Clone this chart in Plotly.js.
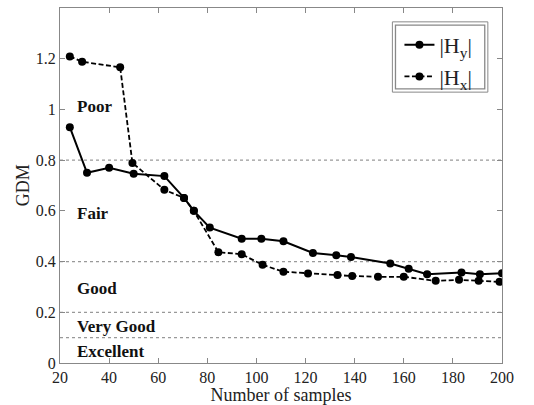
<!DOCTYPE html>
<html>
<head>
<meta charset="utf-8">
<script src="https://cdn.plot.ly/plotly-3.0.1.min.js"></script>
<style>html,body{margin:0;padding:0;background:#fff;}#chart{width:534px;height:405px;}</style>
</head>
<body>
<div id="chart"></div>
<script>
// Data
const hyX = [24, 31, 40, 50, 62.5, 70.5, 74.5, 81, 94, 102, 111, 123, 132.5, 138.5, 154.5, 162, 169.5, 183.5, 191, 200];
const hyY = [0.93, 0.75, 0.77, 0.746, 0.737, 0.651, 0.60, 0.534, 0.490, 0.490, 0.480, 0.434, 0.425, 0.418, 0.392, 0.372, 0.350, 0.357, 0.350, 0.354];
const hxX = [24, 29, 44.5, 49.5, 62.5, 70.5, 74.5, 84.5, 94, 102.5, 111, 121, 133, 139, 149.5, 160, 173, 182.5, 190.5, 199];
const hxY = [1.209, 1.188, 1.166, 0.789, 0.683, 0.651, 0.60, 0.437, 0.429, 0.387, 0.360, 0.353, 0.347, 0.343, 0.340, 0.340, 0.324, 0.328, 0.324, 0.320];
const thresholds = [0.1, 0.2, 0.4, 0.8];
const bandLabels = ["Poor", "Fair", "Good", "Very Good", "Excellent"];
const bandLabelY = [1.01, 0.59, 0.295, 0.145, 0.047];
const bandLabelX = 26;
const xTicks = [20, 40, 60, 80, 100, 120, 140, 160, 180, 200];
const yTicks = [0, 0.2, 0.4, 0.6, 0.8, 1, 1.2];
const yTickText = ["0", "0.2", "0.4", "0.6", "0.8", "1", "1.2"];

const serif = "'Liberation Serif', serif";

const traces = [
  {x: hyX, y: hyY, name: "|H<sub>y</sub>|", mode: "lines+markers", type: "scatter",
   line: {color: "#000", width: 2, dash: "solid"}, marker: {color: "#000", size: 8}},
  {x: hxX, y: hxY, name: "|H<sub>x</sub>|", mode: "lines+markers", type: "scatter",
   line: {color: "#000", width: 1.8, dash: "5px,2.5px"}, marker: {color: "#000", size: 8}}
];

const shapes = thresholds.map(t => ({
  type: "line", xref: "paper", yref: "y", x0: 0, x1: 1, y0: t, y1: t,
  line: {color: "#999", width: 1.2, dash: "dot"}, layer: "below"
}));
// double legend frame
shapes.push({type: "rect", xref: "paper", yref: "paper", x0: 0.752, x1: 0.968, y0: 0.763, y1: 0.961,
  line: {color: "#888", width: 1}, fillcolor: "#fff", layer: "below"});
shapes.push({type: "rect", xref: "paper", yref: "paper", x0: 0.759, x1: 0.961, y0: 0.772, y1: 0.952,
  line: {color: "#888", width: 1.3}, fillcolor: "rgba(0,0,0,0)", layer: "below"});

const annotations = bandLabels.map((t, i) => ({
  text: "<b>" + t + "</b>", x: bandLabelX, y: bandLabelY[i], xref: "x", yref: "y",
  xanchor: "left", yanchor: "middle", showarrow: false,
  font: {family: serif, size: 17, color: "#111"}
}));
annotations.push({text: "GDM", xref: "paper", yref: "paper", x: -0.084, y: 0.5,
  xanchor: "center", yanchor: "middle", textangle: -90, showarrow: false,
  font: {family: serif, size: 18, color: "#222"}});

const layout = {
  width: 534, height: 405,
  margin: {l: 60, r: 32, t: 8, b: 42},
  paper_bgcolor: "#fff", plot_bgcolor: "#fff",
  showlegend: true,
  legend: {x: 0.768, xanchor: "left", y: 0.955, yanchor: "top",
    bgcolor: "rgba(0,0,0,0)", borderwidth: 0,
    font: {family: serif, size: 22, color: "#222"}, itemwidth: 30, tracegroupgap: 0},
  xaxis: {range: [20, 200], tickvals: xTicks, ticks: "inside", ticklen: 5, tickcolor: "#888",
    showline: true, linecolor: "#888", linewidth: 1, mirror: "ticks", showgrid: false, zeroline: false,
    tickfont: {family: serif, size: 16, color: "#222"},
    title: {text: "Number of samples", font: {family: serif, size: 18, color: "#222"}, standoff: 2}},
  yaxis: {range: [0, 1.4], tickvals: yTicks, ticktext: yTickText, ticks: "inside", ticklen: 5, tickcolor: "#888",
    showline: true, linecolor: "#888", linewidth: 1, mirror: "ticks", showgrid: false, zeroline: false,
    tickfont: {family: serif, size: 16, color: "#222"}},
  shapes: shapes,
  annotations: annotations
};

Plotly.newPlot("chart", traces, layout, {displayModeBar: false, staticPlot: true});
</script>
</body>
</html>
